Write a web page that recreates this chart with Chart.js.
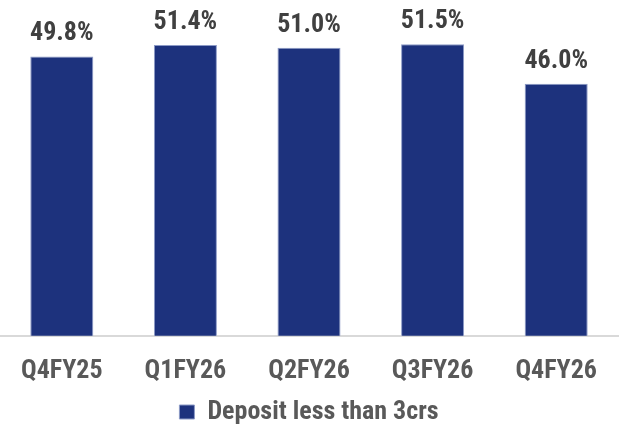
<!DOCTYPE html>
<html>
<head>
<meta charset="utf-8">
<script src="https://cdn.jsdelivr.net/npm/chart.js@4/dist/chart.umd.min.js"></script>
<style>
  html, body { margin: 0; padding: 0; background: #ffffff; }
  #wrap { width: 625px; height: 426px; position: relative; }
</style>
</head>
<body>
<div id="wrap"><canvas id="c" width="625" height="426"></canvas></div>
<script>
const categories = ["Q4FY25", "Q1FY26", "Q2FY26", "Q3FY26", "Q4FY26"];
const depositLessThan3crs = [49.8, 51.4, 51.0, 51.5, 46.0];
const seriesName = "Deposit less than 3crs";

const FONT = "'Roboto Condensed', 'Liberation Sans Narrow', 'Arial Narrow', Roboto, sans-serif";

const valueLabels = {
  id: 'valueLabels',
  afterDatasetsDraw(chart) {
    const ctx = chart.ctx;
    const meta = chart.getDatasetMeta(0);
    ctx.save();
    ctx.font = "bold 26px " + FONT;
    ctx.fillStyle = '#404040';
    ctx.textAlign = 'center';
    ctx.textBaseline = 'alphabetic';
    meta.data.forEach((bar, i) => {
      const v = chart.data.datasets[0].data[i];
      ctx.fillText(v.toFixed(1) + '%', bar.x, bar.y - 16);
    });
    ctx.restore();
  }
};

new Chart(document.getElementById('c'), {
  type: 'bar',
  data: {
    labels: categories,
    datasets: [{
      label: seriesName,
      data: depositLessThan3crs,
      backgroundColor: '#1D327D',
      borderColor: '#8C9AC6',
      borderWidth: 1,
      categoryPercentage: 0.51,
      barPercentage: 1.0
    }]
  },
  options: {
    responsive: false,
    animation: false,
    devicePixelRatio: 1,
    layout: { padding: { top: 19, right: 7, left: 0, bottom: -9 } },
    scales: {
      y: { display: false, min: 11, max: 55 },
      x: {
        grid: { display: false },
        border: { display: true, color: '#D9D9D9', width: 2 },
        ticks: {
          color: '#595959',
          font: { family: FONT, size: 26, weight: 'bold' },
          padding: 12
        }
      }
    },
    plugins: {
      legend: {
        position: 'bottom',
        labels: {
          color: '#595959',
          font: { family: FONT, size: 26, weight: 'bold' },
          boxWidth: 15,
          boxHeight: 14,
          padding: 0
        }
      },
      tooltip: { enabled: false }
    }
  },
  plugins: [valueLabels]
});
</script>
</body>
</html>
